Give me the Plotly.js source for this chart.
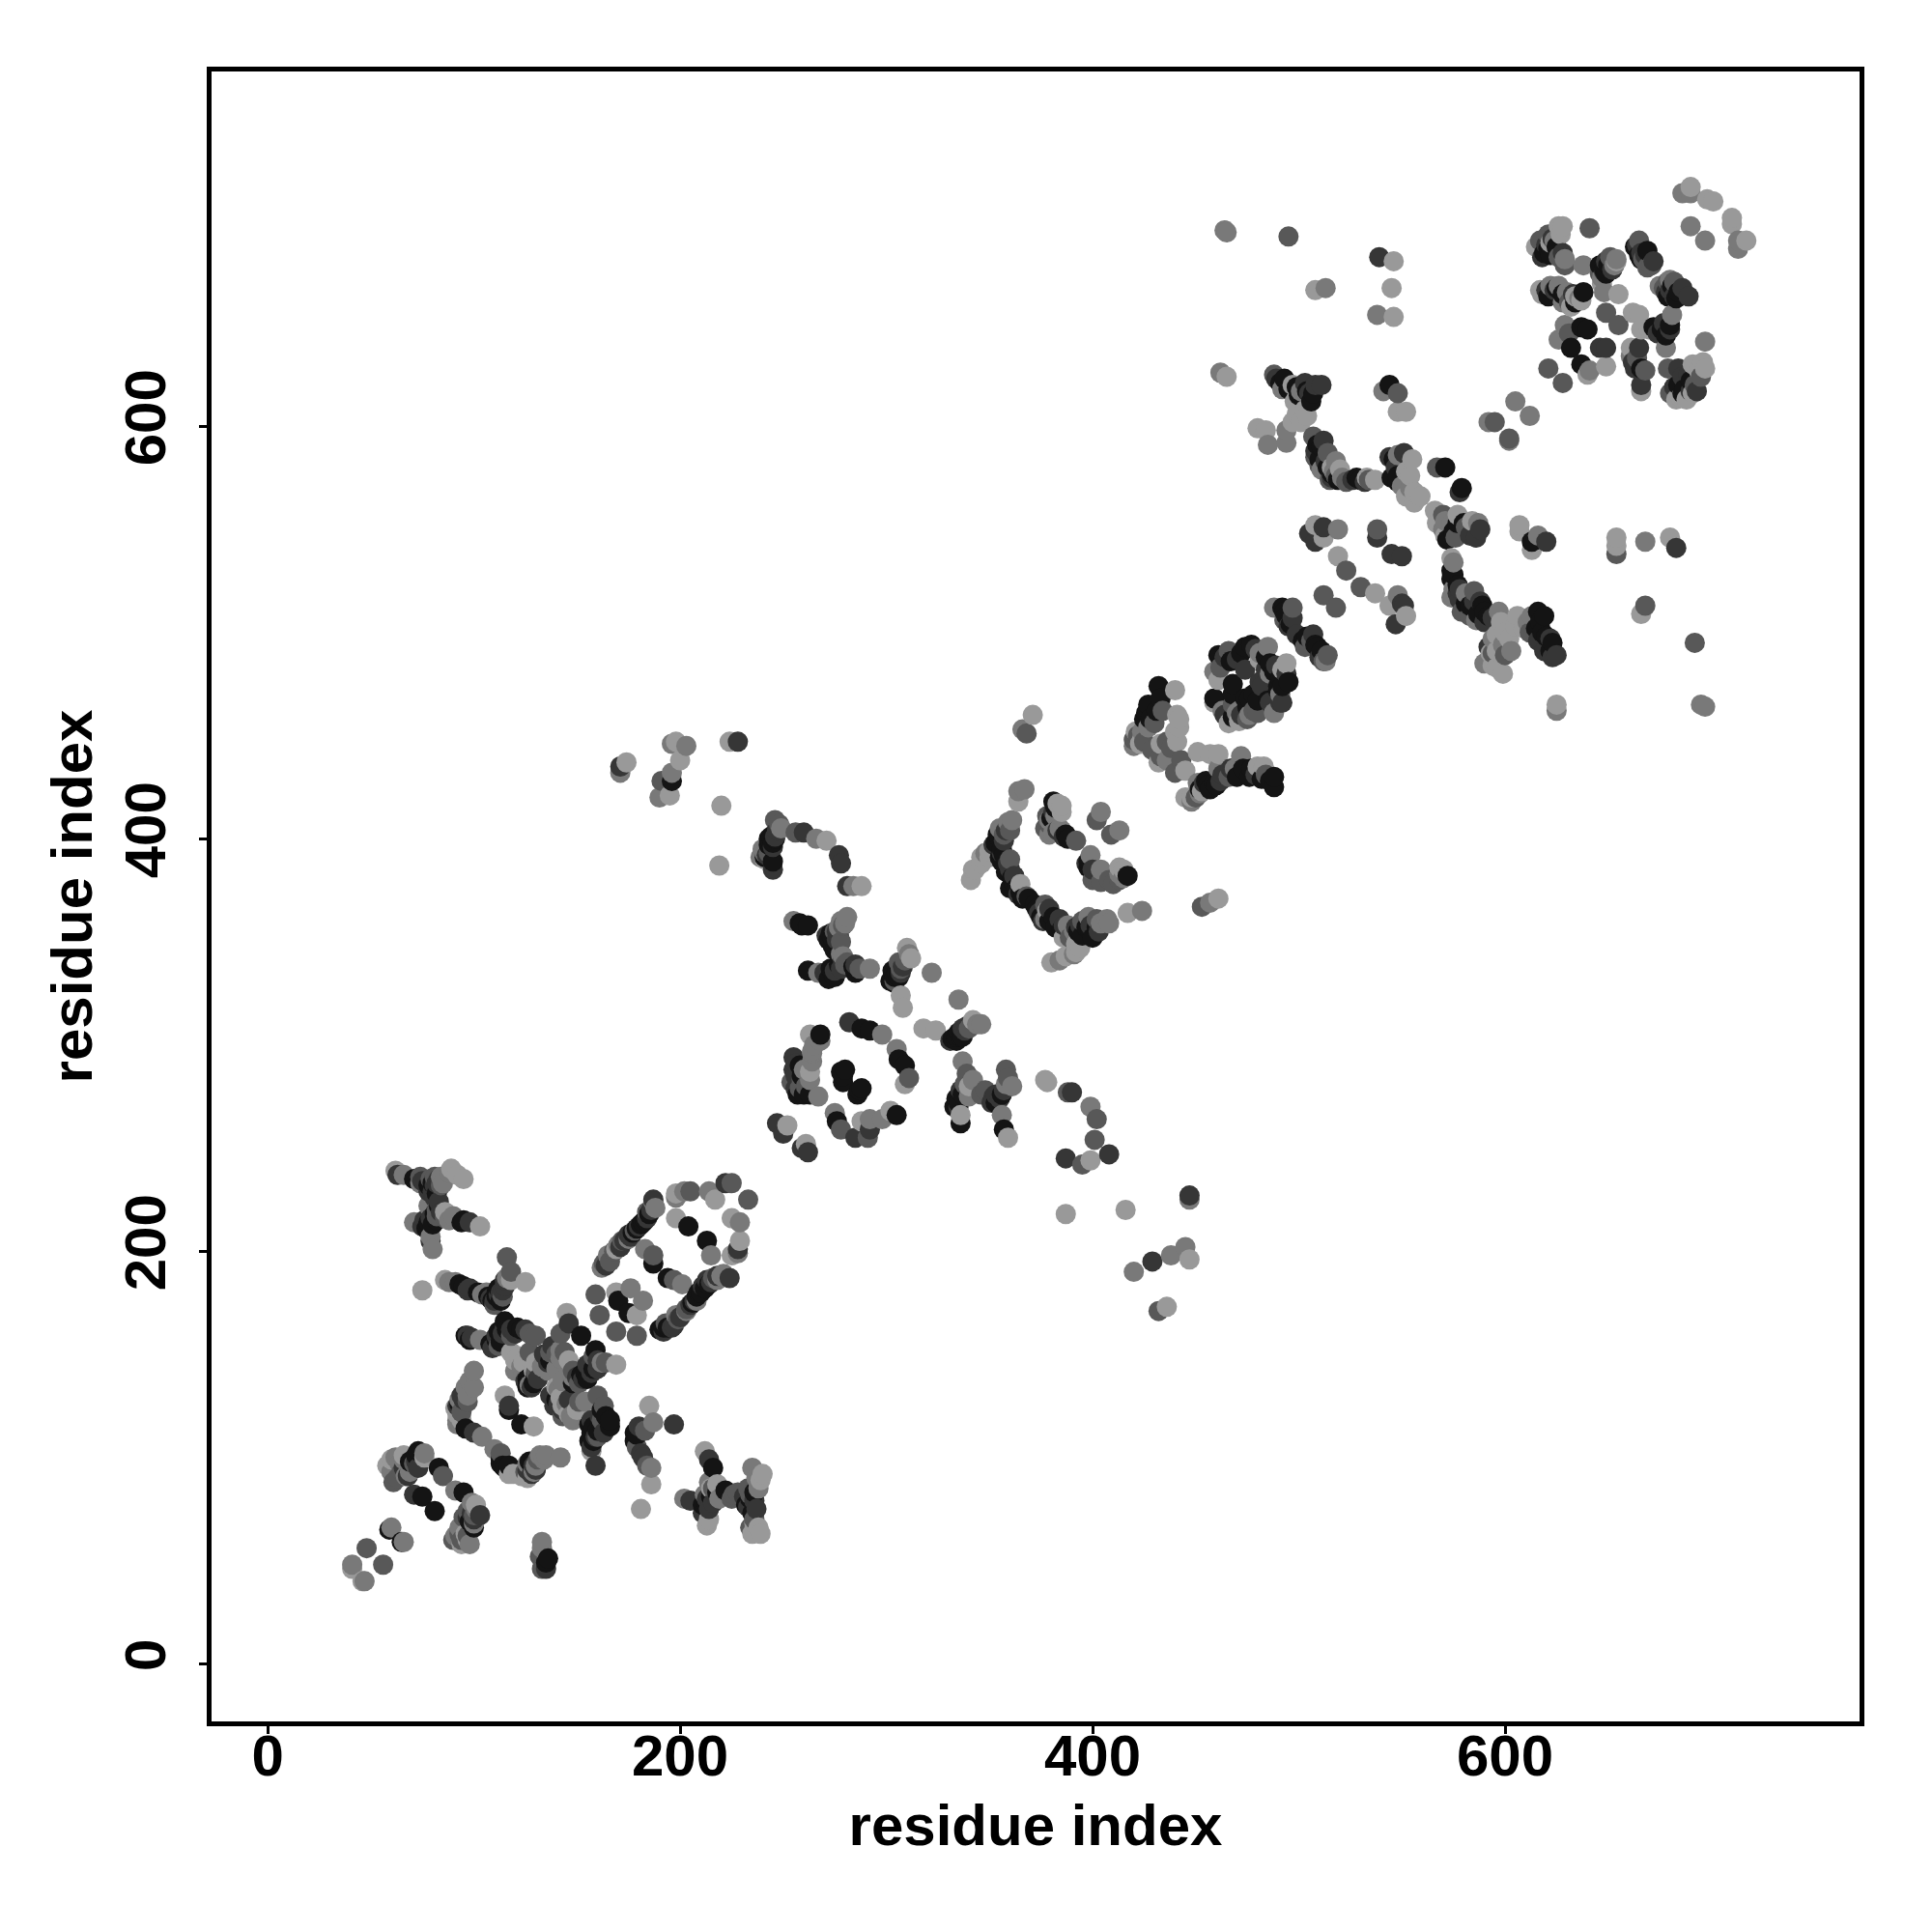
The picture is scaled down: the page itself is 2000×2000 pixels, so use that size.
<!DOCTYPE html>
<html><head><meta charset="utf-8"><script src="https://cdn.plot.ly/plotly-3.0.1.min.js"></script>
<style>html,body{margin:0;padding:0;background:#fff}</style></head><body><div id="chart" style="width:2000px;height:2000px"></div>
<script>
const tickValues=[0,200,400,600];
const tickLabels=["0","200","400","600"];
const xTitle="residue index", yTitle="residue index";
const grayA=[[71,235],[79,231],[83,222],[80,213],[95,215],[95,183],[102,180],[111,178],[96,159],[111,157],[115,166],[123,162],[126,138],[152,159],[159,152],[154,141],[162,123],[166,115],[157,112],[156,108],[93,126],[96,114],[117,123],[123,116],[114,96],[72,101],[83,95],[95,83],[75,81],[81,74],[98,69],[59,65],[65,59],[135,49],[178,112],[216,95],[222,84],[235,73],[181,213],[187,194],[204,212],[213,205],[210,180],[192,163],[194,187],[170,176],[175,170],[196,428],[243,400],[245,389],[259,358],[272,351],[274,335],[262,336],[304,333],[334,304],[288,308],[292,307],[268,305],[263,276],[278,287],[287,278],[306,293],[309,290],[276,263],[334,274],[336,262],[357,259],[354,402],[356,389],[365,374],[360,376],[373,366],[379,360],[393,355],[399,355],[381,418],[388,400],[398,386],[417,382],[433,468],[432,474],[426,461],[425,458],[455,428],[459,427],[473,434],[477,434],[488,430],[488,425],[468,475],[459,468],[474,468],[468,459],[480,467],[495,476],[493,623],[507,616],[511,590],[530,574],[544,620],[548,576],[571,580],[579,570],[575,549],[580,553],[590,510],[619,508],[615,502],[623,495],[613,544],[575,528],[493,510],[502,496],[509,493],[461,489],[477,494],[484,488],[491,478],[476,468],[621,686],[648,676],[665,683],[684,665],[638,665],[676,647],[632,638],[637,648],[640,647],[637,630],[687,618],[305,266],[288,279]];
const extraA=[[185,218],[183,215],[179,211],[177,209],[182,214],[214,184],[212,182],[208,178],[206,175],[209,180],[194,163],[190,162],[80,233],[78,232],[82,228],[81,218],[78,214],[77,211],[82,215],[94,214],[107,178],[109,176],[111,180],[112,182],[113,176],[93,184],[108,155],[113,156],[116,162],[121,163],[112,161],[98,157],[126,134],[129,136],[130,139],[137,147],[140,128],[155,138],[158,143],[148,136],[152,140],[158,115],[160,113],[162,116],[164,120],[158,108],[156,116],[166,118],[113,99],[115,95],[127,98],[117,96],[113,97],[69,98],[73,103],[100,66],[136,51],[213,78],[211,77],[215,81],[218,83],[232,77],[234,80],[236,83],[178,108],[179,111],[245,398],[246,400],[243,397],[244,401],[241,391],[274,348],[274,352],[273,354],[276,350],[262,358],[258,359],[275,346],[273,337],[275,333],[277,339],[272,332],[285,335],[284,338],[302,331],[304,330],[306,333],[305,335],[303,336],[335,306],[332,303],[336,304],[334,302],[337,304],[258,290],[259,285],[260,276],[257,276],[279,282],[279,285],[280,288],[286,276],[335,272],[333,270],[337,276],[353,272],[356,276],[355,400],[353,398],[356,395],[357,392],[355,391],[358,384],[361,381],[363,376],[362,378],[366,371],[372,368],[375,362],[382,357],[381,362],[385,356],[395,353],[397,357],[400,352],[402,357],[369,371],[382,415],[380,410],[387,402],[398,389],[427,465],[428,458],[431,462],[426,458],[452,424],[456,426],[457,424],[460,426],[470,430],[476,430],[482,429],[486,428],[467,486],[472,490],[474,493],[486,485],[488,481],[490,474],[468,470],[475,464],[478,470],[485,467],[490,472],[492,474],[494,508],[496,504],[504,498],[508,494],[511,491],[492,512],[491,621],[495,618],[500,615],[504,617],[506,612],[499,619],[510,584],[514,580],[516,577],[519,574],[528,575],[509,591],[546,584],[545,575],[548,573],[574,530],[574,526],[577,523],[583,513],[587,509],[592,508],[581,514],[589,513],[617,505],[616,510],[620,498],[622,491],[618,500],[572,545],[577,553],[619,684],[622,683],[625,687],[646,678],[649,674],[650,678],[666,681],[669,685],[663,687],[681,668],[683,662],[679,663],[625,667],[628,664],[634,660],[621,663],[672,648],[678,644],[680,649],[684,620],[690,622],[686,616],[666,628]];
const grayB=[[63,237],[82,233],[78,229],[81,232],[79,216],[75,212],[98,214],[79,205],[98,182],[113,180],[115,183],[99,158],[114,160],[118,162],[131,138],[138,154],[146,165],[157,141],[160,143],[137,130],[159,96],[71,82],[103,72],[100,112],[117,125],[129,96],[213,80],[214,75],[231,81],[214,99],[182,114],[181,102],[197,116],[205,79],[187,225],[184,216],[175,208],[222,233],[224,187],[215,185],[207,176],[196,163],[228,201],[228,447],[171,435],[260,403],[245,385],[277,392],[278,388],[281,377],[276,355],[270,335],[285,339],[337,308],[282,311],[256,291],[256,285],[247,262],[250,257],[259,250],[262,248],[285,255],[292,259],[352,275],[352,397],[360,385],[384,361],[468,434],[462,428],[467,434],[482,474],[492,466],[508,620],[511,620],[526,574],[551,587],[578,568],[583,547],[512,551],[505,548],[508,544],[538,546],[545,538],[550,537],[551,513],[594,507],[592,493],[625,489],[578,521],[585,515],[497,507],[494,480],[474,482],[491,466],[618,682],[628,684],[620,666],[649,680],[664,688],[680,666],[689,663],[646,638],[649,638],[665,638],[662,631],[666,620],[684,628],[682,619],[693,617],[680,647],[539,682],[447,227],[429,195],[390,277],[387,245],[408,247],[353,276],[683,541],[620,544],[547,504],[550,514],[588,550],[623,488]];
const extraB=[[186,220],[180,212],[176,207],[173,205],[171,202],[165,196],[164,193],[218,188],[213,186],[211,183],[205,174],[200,168],[197,164],[192,161],[75,234],[80,229],[83,235],[81,226],[83,224],[84,219],[76,215],[108,177],[110,176],[112,179],[115,186],[114,181],[97,181],[109,153],[111,159],[115,163],[120,160],[125,162],[97,159],[125,137],[128,134],[134,150],[136,146],[150,139],[153,138],[155,145],[160,147],[141,126],[143,123],[146,128],[139,125],[157,118],[159,110],[161,120],[157,105],[163,112],[94,130],[92,125],[95,128],[126,94],[128,92],[130,94],[66,95],[72,98],[73,95],[68,91],[100,70],[97,71],[99,73],[135,46],[211,73],[216,78],[218,80],[233,76],[236,79],[237,75],[180,115],[182,100],[247,404],[246,401],[245,396],[242,392],[276,351],[277,353],[271,353],[275,336],[278,337],[279,341],[307,335],[308,338],[338,307],[339,309],[331,302],[255,288],[256,279],[255,294],[335,270],[336,278],[355,274],[351,272],[357,278],[358,404],[357,399],[356,393],[359,388],[362,382],[364,373],[374,364],[376,360],[386,358],[394,358],[403,355],[392,357],[399,358],[379,366],[381,413],[386,401],[397,388],[400,385],[383,404],[454,427],[463,431],[479,431],[464,488],[470,487],[479,492],[484,482],[489,484],[464,460],[481,476],[486,466],[472,460],[495,503],[499,499],[507,499],[510,488],[489,623],[503,621],[505,616],[512,593],[508,588],[513,583],[516,575],[532,573],[547,580],[544,585],[578,516],[577,519],[588,515],[590,505],[616,496],[619,491],[622,497],[586,546],[620,688],[623,691],[648,675],[652,676],[666,684],[668,683],[672,680],[678,665],[686,667],[682,663],[624,666],[633,664],[674,645],[677,650],[689,625],[686,624],[690,617],[663,628]];
const grayC=[[82,217],[81,236],[116,197],[130,159],[127,151],[142,160],[144,151],[164,146],[151,127],[160,130],[162,118],[113,102],[125,93],[131,99],[63,90],[85,91],[95,71],[48,56],[56,48],[132,52],[184,96],[226,82],[234,82],[234,66],[172,205],[163,194],[187,198],[205,229],[225,233],[233,225],[197,186],[159,179],[161,169],[169,161],[179,159],[191,428],[368,451],[246,409],[256,403],[280,339],[307,337],[258,279],[311,284],[278,259],[291,255],[339,286],[346,276],[358,288],[388,277],[360,404],[379,407],[392,399],[404,379],[408,380],[402,409],[409,402],[453,367],[420,448],[430,456],[434,462],[438,444],[433,440],[443,438],[440,432],[478,462],[488,625],[507,595],[508,585],[514,587],[518,576],[548,616],[567,580],[570,557],[538,550],[523,530],[530,522],[512,518],[518,512],[654,538],[668,513],[585,520],[506,496],[514,489],[466,491],[493,506],[621,628],[628,621],[595,602],[602,594],[641,696],[629,678],[667,681],[671,678],[679,670],[631,660],[649,655],[655,649],[631,645],[668,627],[679,628],[692,620],[692,495],[402,264],[395,242],[401,254],[432,171],[495,692]];
const extraC=[[184,219],[178,210],[168,200],[166,195],[216,187],[203,172],[199,167],[193,165],[79,235],[84,232],[82,220],[74,236],[86,216],[110,174],[114,178],[118,190],[112,154],[118,159],[127,160],[130,141],[137,151],[140,150],[148,142],[151,136],[158,149],[143,120],[163,125],[160,110],[94,122],[97,127],[61,88],[65,93],[71,97],[97,62],[93,63],[90,60],[97,74],[100,72],[94,60],[133,46],[216,85],[225,80],[228,83],[233,85],[236,70],[183,113],[179,105],[248,407],[243,393],[275,355],[279,358],[278,350],[281,340],[287,337],[306,340],[309,341],[304,331],[340,308],[259,283],[261,280],[254,282],[338,281],[359,284],[348,278],[357,402],[360,390],[368,372],[377,368],[389,352],[395,360],[402,361],[378,411],[377,405],[400,380],[410,378],[413,380],[422,450],[425,447],[429,443],[436,447],[450,420],[466,430],[484,431],[462,483],[468,465],[475,458],[480,461],[503,493],[512,486],[497,512],[510,581],[515,574],[523,573],[534,574],[579,510],[583,508],[594,490],[600,489],[612,500],[576,546],[581,551],[621,693],[617,690],[626,682],[651,682],[646,674],[669,677],[665,690],[682,670],[677,667],[680,616],[695,624],[664,633]];
const grayD=[[66,237],[74,233],[84,236],[71,214],[90,217],[80,201],[91,185],[106,180],[117,188],[103,157],[123,144],[136,142],[140,143],[143,137],[145,126],[147,120],[100,142],[100,134],[92,116],[104,110],[110,104],[134,99],[142,100],[64,97],[76,102],[91,84],[101,75],[93,66],[60,66],[66,59],[41,48],[47,40],[133,59],[187,117],[186,95],[202,80],[235,95],[188,221],[165,198],[183,201],[198,226],[202,229],[214,229],[229,214],[228,199],[215,198],[220,188],[203,171],[198,169],[201,184],[176,182],[182,176],[171,432],[196,446],[203,445],[196,432],[190,420],[366,453],[249,405],[266,400],[240,395],[284,377],[255,360],[278,360],[281,362],[278,344],[267,335],[292,337],[322,335],[335,322],[346,310],[298,305],[268,302],[264,297],[264,292],[267,275],[305,298],[275,267],[292,264],[298,264],[337,292],[361,280],[356,266],[364,423],[367,424],[359,408],[348,393],[379,402],[385,404],[399,392],[404,385],[413,383],[404,413],[413,404],[404,359],[408,359],[391,344],[384,341],[424,365],[457,369],[471,462],[488,461],[452,422],[461,434],[472,440],[462,626],[494,598],[494,592],[485,591],[518,583],[521,575],[548,586],[554,570],[574,553],[575,534],[575,521],[581,519],[541,617],[519,550],[548,518],[616,547],[668,544],[625,462],[594,497],[599,494],[613,508],[590,485],[488,512],[513,486],[485,493],[481,490],[470,461],[605,612],[612,605],[592,602],[602,593],[686,713],[690,713],[690,697],[697,690],[713,690],[713,686],[697,641],[629,681],[638,678],[654,681],[626,668],[630,665],[648,665],[681,654],[629,649],[626,642],[641,627],[678,638],[695,465],[697,464],[464,695],[465,694],[513,667],[538,654],[420,190],[438,198],[445,202],[447,225],[399,270]];
const extraD=[[175,206],[170,203],[162,192],[187,224],[221,189],[218,186],[208,176],[85,233],[88,238],[78,222],[88,215],[79,207],[88,185],[104,179],[116,187],[120,142],[124,140],[127,135],[133,144],[142,148],[142,152],[148,139],[162,146],[141,133],[148,118],[154,127],[96,134],[93,128],[92,118],[97,130],[98,137],[126,97],[130,96],[129,93],[132,101],[135,101],[60,93],[62,100],[67,91],[66,99],[69,93],[98,58],[91,62],[100,68],[99,78],[133,56],[214,88],[219,80],[238,85],[237,90],[212,82],[241,393],[239,391],[280,359],[277,357],[279,343],[311,344],[344,310],[264,296],[265,300],[263,283],[260,288],[340,275],[358,281],[342,283],[361,409],[355,405],[377,361],[388,358],[391,355],[407,361],[398,362],[382,411],[379,409],[381,403],[384,405],[415,381],[420,445],[424,452],[427,454],[436,438],[448,418],[451,427],[469,434],[459,481],[463,462],[486,480],[491,470],[476,460],[492,618],[501,617],[511,579],[517,578],[550,571],[574,517],[597,510],[603,491],[611,505],[586,506],[570,550],[571,554],[587,553],[624,690],[647,672],[653,678],[680,671],[675,668],[622,668],[636,662],[628,660],[661,634]];
const grayE=[[62,239],[89,240],[95,235],[92,237],[86,219],[103,212],[118,186],[125,185],[86,186],[75,181],[120,147],[122,149],[129,142],[145,170],[169,145],[140,134],[142,129],[150,123],[157,103],[92,121],[115,130],[129,115],[117,92],[122,92],[58,96],[97,60],[41,46],[46,40],[185,125],[186,87],[181,75],[212,103],[214,70],[218,87],[239,89],[238,66],[239,63],[169,201],[198,228],[217,225],[225,216],[229,205],[225,198],[198,216],[169,180],[179,169],[174,437],[198,447],[200,438],[195,421],[224,447],[220,416],[219,387],[371,460],[271,399],[241,390],[288,377],[310,347],[312,342],[307,324],[308,318],[318,308],[324,307],[342,312],[263,305],[263,287],[309,281],[252,261],[261,252],[288,263],[302,268],[340,280],[336,266],[359,255],[377,283],[364,418],[365,378],[378,365],[392,349],[380,340],[343,385],[346,391],[341,380],[385,413],[417,364],[461,371],[440,472],[421,452],[442,458],[442,454],[433,446],[445,433],[451,442],[457,441],[461,441],[448,420],[483,435],[465,624],[497,620],[504,605],[501,602],[497,602],[480,599],[484,598],[537,574],[548,607],[552,607],[555,584],[554,576],[559,566],[566,559],[584,554],[508,552],[512,546],[519,537],[537,519],[544,513],[552,508],[607,552],[607,549],[613,540],[654,546],[654,542],[680,546],[666,509],[625,465],[574,536],[600,500],[605,503],[594,484],[599,480],[596,483],[494,485],[461,477],[690,716],[698,710],[701,709],[710,701],[710,698],[717,690],[626,697],[628,697],[627,693],[615,687],[622,689],[654,680],[617,666],[637,661],[647,669],[655,664],[662,655],[665,654],[666,647],[670,647],[640,625],[649,629],[661,638],[666,617],[697,628],[694,627],[685,614],[688,613],[546,680],[545,667],[546,653],[508,666],[387,218],[416,220],[447,196],[436,173],[378,282],[399,244]];
const extraE=[[118,151],[124,146],[130,146],[146,147],[146,121],[143,125],[127,148],[91,124],[94,118],[123,91],[126,90],[119,92],[60,99],[66,101],[76,100],[96,63],[101,77],[94,58],[215,85],[213,67],[236,68],[235,63],[240,92],[386,352],[392,345],[387,343],[394,347],[350,394],[342,385],[346,388],[350,391],[383,417],[385,416],[415,385],[413,386],[424,448],[423,446],[441,460],[440,452],[441,447],[432,437],[445,420],[453,423],[480,435],[471,457],[466,456],[459,466],[481,487],[492,482],[498,612],[503,608],[499,606],[533,575],[520,579],[516,580],[552,578],[556,568],[552,566],[556,563],[598,505],[602,497],[606,508],[596,499],[596,491],[609,502],[593,490],[567,553],[577,557],[571,547],[632,658],[634,663],[618,664],[691,630],[683,613],[691,616],[696,631]];
const grayColors=["#141414","#363636","#585858","#797979","#999999"];
const groups=[grayA.concat(extraA),grayB.concat(extraB),grayC.concat(extraC),grayD.concat(extraD),grayE.concat(extraE)];
const pts=[];
groups.forEach((g,i)=>g.forEach(p=>pts.push({x:p[0],y:p[1],c:grayColors[i]})));
pts.sort((a,b)=>a.x-b.x||a.y-b.y);
const traces=[{type:"scatter",mode:"markers",x:pts.map(p=>p.x),y:pts.map(p=>p.y),
  marker:{color:pts.map(p=>p.c),size:21,line:{width:0}},cliponaxis:true,hoverinfo:"skip",showlegend:false}];
const fam="Liberation Sans, Arial, sans-serif";
const tickFont={family:fam,size:60,color:"#000",weight:700};
const ax={tickvals:tickValues,ticktext:tickLabels,ticks:"outside",ticklen:8,tickwidth:3,tickcolor:"#000",
  showgrid:false,zeroline:false,showline:true,linewidth:5,linecolor:"#000",mirror:true,tickfont:tickFont,automargin:false};
const layout={width:2000,height:2000,paper_bgcolor:"#fff",plot_bgcolor:"#fff",showlegend:false,
  margin:{l:219,r:75,t:74,b:218,pad:0},
  xaxis:Object.assign({},ax,{range:[-27.2,771.9],ticklabelstandoff:-29,title:{text:"<b>"+xTitle+"</b>",font:{family:fam,size:60,color:"#000"},standoff:19}}),
  yaxis:Object.assign({},ax,{range:[-28,772],tickangle:-90,ticklabelstandoff:11,title:{text:"<b>"+yTitle+"</b>",font:{family:fam,size:60,color:"#000"},standoff:4}})};
Plotly.newPlot("chart",traces,layout,{displayModeBar:false,staticPlot:true});
</script></body></html>
